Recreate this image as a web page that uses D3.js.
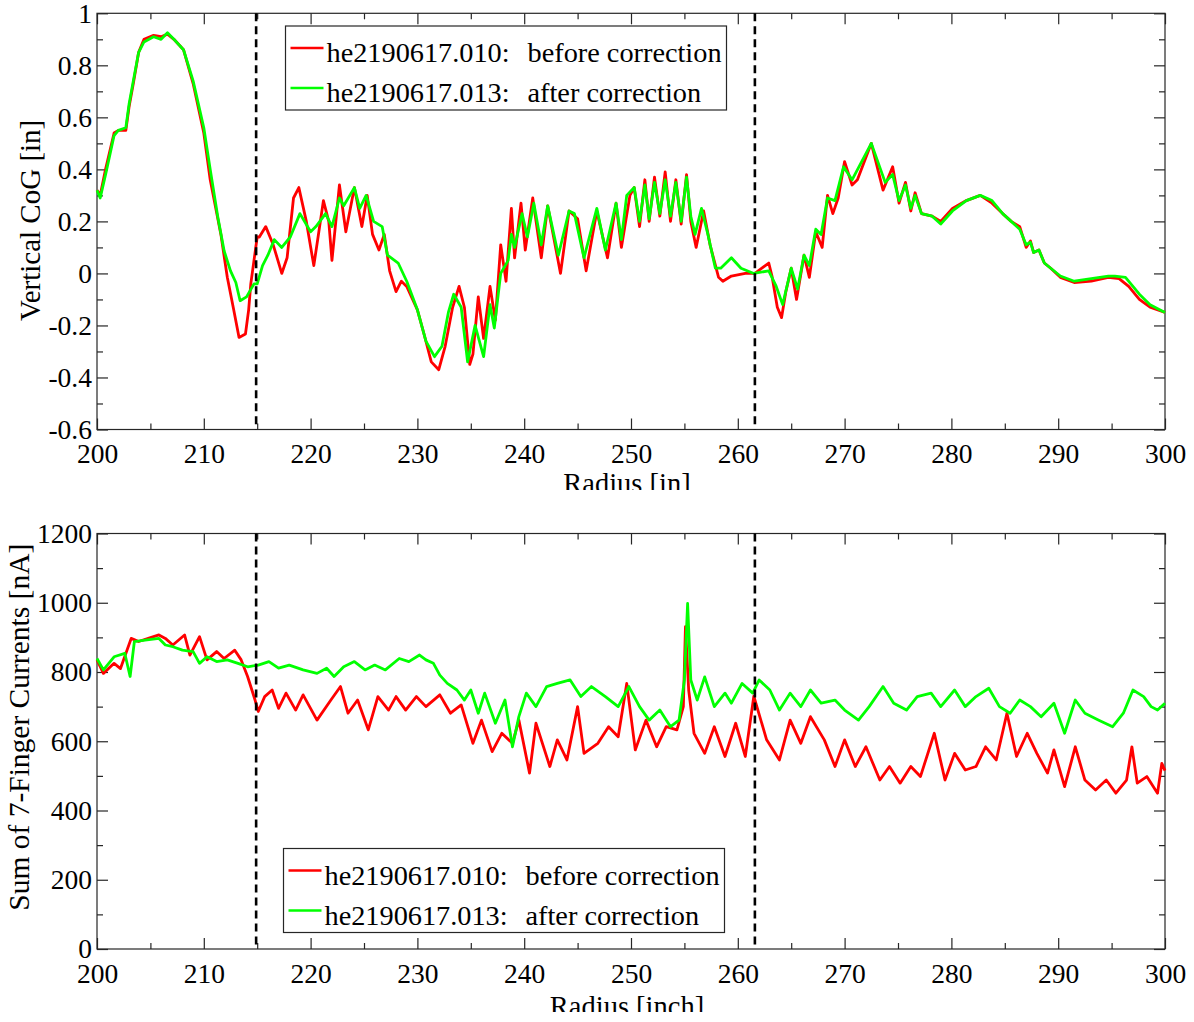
<!DOCTYPE html>
<html>
<head>
<meta charset="utf-8">
<script src="https://cdn.jsdelivr.net/npm/d3@7"></script>
<style>
  body { margin: 0; background: #fff; }
</style>
</head>
<body>
<div id="chart"></div>
<script>
var FONT = "'Liberation Serif', 'Times New Roman', 'DejaVu Serif', serif";

// Radius ticks (shared by both panels)
var radiusTicks = [200, 210, 220, 230, 240, 250, 260, 270, 280, 290, 300];
var radiusMinor = [205, 215, 225, 235, 245, 255, 265, 275, 285, 295];
var cogTicks = [-0.6, -0.4, -0.2, 0, 0.2, 0.4, 0.6, 0.8, 1];
var cogMinor = [-0.5, -0.3, -0.1, 0.1, 0.3, 0.5, 0.7, 0.9];
var currentTicks = [0, 200, 400, 600, 800, 1000, 1200];
var currentMinor = [100, 300, 500, 700, 900, 1100];

// Correction boundaries (dashed lines)
var markers = [214.9, 261.6];

var seriesNames = ['he2190617.010:', 'he2190617.013:'];
var seriesNotes = ['before correction', 'after correction'];
var seriesColors = ['#ff0000', '#00ff00'];

// Vertical CoG [in] as [radius, value]
var cogBefore = [[200.0,0.32],[200.3,0.30],[200.8,0.40],[201.6,0.54],[202.0,0.55],[202.7,0.55],[203.0,0.64],[203.4,0.73],
  [203.9,0.85],[204.4,0.90],[205.3,0.915],[206.0,0.91],[206.6,0.92],[207.2,0.90],[208.1,0.86],[209.0,0.73],[210.0,0.54],
  [210.6,0.36],[211.6,0.15],[212.2,-0.015],[212.8,-0.14],[213.3,-0.246],[213.9,-0.233],[214.2,-0.14],[214.4,-0.04],
  [214.7,0.05],[215.0,0.14],[215.2,0.14],[215.8,0.18],[216.5,0.11],[217.3,0.0],[217.8,0.06],[218.4,0.29],[218.9,0.33],
  [219.6,0.2],[220.3,0.03],[220.7,0.14],[221.2,0.28],[221.7,0.2],[222.0,0.05],[222.7,0.34],[223.3,0.16],[224.1,0.33],
  [224.8,0.18],[225.3,0.3],[225.8,0.15],[226.4,0.09],[226.9,0.15],[227.4,0.01],[228.0,-0.07],[228.5,-0.03],[229.0,-0.05],
  [230.0,-0.14],[230.6,-0.23],[231.3,-0.34],[232.0,-0.37],[232.6,-0.28],[233.3,-0.13],[233.9,-0.05],[234.4,-0.13],
  [234.9,-0.35],[235.2,-0.31],[235.7,-0.09],[236.2,-0.25],[236.8,-0.05],[237.3,-0.18],[237.8,0.11],[238.3,-0.03],
  [238.8,0.25],[239.1,0.06],[239.7,0.27],[240.1,0.09],[240.8,0.29],[241.6,0.06],[242.2,0.26],[243.4,0.0],[244.2,0.24],
  [245.0,0.21],[245.8,0.01],[246.8,0.24],[247.8,0.06],[248.6,0.27],[249.1,0.1],[249.9,0.3],[250.3,0.33],[250.8,0.18],
  [251.3,0.36],[251.7,0.2],[252.2,0.37],[252.7,0.22],[253.2,0.39],[253.7,0.2],[254.2,0.36],[254.7,0.19],[255.2,0.38],
  [255.6,0.2],[256.1,0.1],[256.8,0.24],[257.4,0.11],[258.2,-0.015],[258.6,-0.03],[259.4,-0.01],[260.7,0.0],[261.6,0.0],
  [262.9,0.04],[263.2,-0.01],[263.7,-0.13],[264.1,-0.17],[264.5,-0.07],[265.0,0.02],[265.5,-0.1],[266.2,0.07],
  [266.7,-0.015],[267.3,0.16],[267.9,0.1],[268.4,0.3],[268.9,0.23],[269.4,0.29],[270.0,0.43],[270.7,0.34],[271.2,0.36],
  [272.5,0.5],[273.6,0.32],[274.5,0.41],[275.1,0.27],[275.7,0.35],[276.2,0.24],[276.6,0.31],[277.2,0.23],[278.2,0.22],
  [279.0,0.2],[280.1,0.25],[281.4,0.28],[282.7,0.3],[283.8,0.27],[284.8,0.23],[285.6,0.2],[286.4,0.18],[287.0,0.1],
  [287.4,0.125],[287.7,0.08],[288.2,0.09],[288.7,0.04],[289.3,0.02],[290.2,-0.015],[291.5,-0.035],[293.1,-0.03],
  [294.7,-0.015],[295.7,-0.02],[296.6,-0.05],[297.6,-0.1],[298.6,-0.13],[300.0,-0.15]];

var cogAfter = [[200.0,0.32],[200.3,0.29],[200.8,0.38],[201.6,0.53],[202.0,0.55],[202.7,0.56],[203.0,0.65],[203.4,0.74],
  [203.9,0.85],[204.4,0.89],[205.3,0.91],[206.0,0.90],[206.6,0.925],[207.2,0.90],[208.1,0.86],[209.0,0.74],[210.0,0.56],
  [210.6,0.40],[211.3,0.22],[211.9,0.087],[212.5,0.01],[213.0,-0.035],[213.4,-0.105],[214.0,-0.09],[214.7,-0.04],
  [215.0,-0.04],[215.5,0.03],[216.0,0.07],[216.6,0.13],[217.3,0.10],[218.1,0.14],[219.0,0.23],[220.0,0.16],[220.5,0.18],
  [221.4,0.23],[222.0,0.18],[222.7,0.29],[223.1,0.26],[224.1,0.33],[224.6,0.25],[225.2,0.30],[225.9,0.20],[226.7,0.18],
  [227.2,0.07],[228.2,0.04],[229.0,-0.03],[230.0,-0.14],[230.8,-0.26],[231.6,-0.32],[232.3,-0.28],[232.9,-0.15],
  [233.4,-0.08],[234.1,-0.13],[234.7,-0.34],[235.4,-0.20],[236.2,-0.32],[236.8,-0.12],[237.2,-0.21],[237.8,0.0],
  [238.5,0.05],[238.8,0.15],[239.1,0.10],[239.8,0.23],[240.3,0.14],[240.9,0.27],[241.6,0.11],[242.2,0.26],[243.2,0.07],
  [244.2,0.24],[244.7,0.23],[245.6,0.06],[246.8,0.25],[247.6,0.09],[248.6,0.27],[249.1,0.13],[249.6,0.30],[250.3,0.33],
  [250.8,0.20],[251.3,0.34],[251.7,0.21],[252.2,0.35],[252.7,0.23],[253.2,0.36],[253.7,0.22],[254.2,0.35],[254.7,0.20],
  [255.2,0.37],[255.6,0.22],[256.0,0.15],[256.6,0.25],[257.2,0.15],[257.9,0.02],[258.4,0.02],[259.4,0.06],[260.3,0.02],
  [261.5,0.0],[262.9,0.01],[263.6,-0.05],[264.2,-0.12],[265.0,0.02],[265.6,-0.06],[266.2,0.07],[266.7,0.03],[267.3,0.17],
  [267.8,0.15],[268.4,0.29],[269.1,0.28],[269.9,0.41],[270.7,0.36],[272.5,0.5],[273.8,0.35],[274.5,0.38],[275.1,0.28],
  [275.7,0.34],[276.2,0.25],[276.6,0.30],[277.2,0.23],[278.2,0.22],[279.0,0.19],[280.1,0.24],[281.4,0.28],[282.7,0.30],
  [283.8,0.28],[284.8,0.23],[285.6,0.20],[286.4,0.17],[287.0,0.11],[287.4,0.12],[287.7,0.08],[288.2,0.09],[288.7,0.04],
  [289.3,0.02],[290.2,-0.01],[291.5,-0.03],[293.1,-0.02],[294.7,-0.01],[295.3,-0.01],[296.3,-0.015],[297.6,-0.08],
  [298.6,-0.12],[300.0,-0.15]];

// Sum of 7-finger currents [nA] as [radius, value]
var currentBefore = [[200.0,835],[200.6,796],[201.6,825],[202.2,810],[203.2,897],[203.9,888],[204.8,897],[205.8,907],
  [206.4,897],[207.1,878],[208.2,907],[208.7,849],[209.6,902],[210.3,835],[211.2,859],[211.9,839],[212.9,863],[213.5,835],
  [214.1,787],[214.8,719],[215.1,686],[215.7,729],[216.4,748],[217.0,695],[217.7,739],[218.6,690],[219.3,734],[220.6,661],
  [221.9,719],[222.8,758],[223.5,681],[224.4,719],[225.4,633],[226.3,729],[227.3,690],[228.0,729],[228.9,690],[229.9,729],
  [230.8,700],[232.1,734],[233.1,681],[234.1,705],[235.2,594],[236.0,661],[237.0,570],[237.9,623],[238.9,594],[239.5,661],
  [240.5,508],[241.1,652],[242.4,527],[243.1,604],[244.0,546],[245.0,700],[245.6,565],[246.9,594],[247.9,642],[248.8,613],
  [249.6,767],[250.4,575],[251.4,661],[252.4,584],[253.3,642],[254.3,633],[254.9,700],[255.1,931],[255.4,748],[255.9,623],
  [256.9,565],[257.8,642],[258.8,556],[259.8,652],[260.7,556],[261.5,730],[262.7,604],[263.9,546],[264.9,661],[265.9,594],
  [266.8,671],[268.1,604],[269.1,527],[270.0,604],[271.0,527],[272.0,584],[273.3,488],[274.2,527],[275.2,479],[276.2,527],
  [277.1,498],[278.4,623],[279.4,488],[280.3,565],[281.3,517],[282.3,527],[283.2,584],[284.2,546],[285.2,681],[286.1,556],
  [287.1,623],[288.0,565],[289.0,508],[289.6,575],[290.6,469],[291.6,584],[292.5,488],[293.5,459],[294.5,488],[295.4,450],
  [296.4,488],[296.9,584],[297.4,479],[298.3,498],[299.3,450],[299.7,536],[300.0,515]];

var currentAfter = [[200.0,839],[200.6,806],[201.6,844],[202.6,854],[203.1,787],[203.5,888],[204.5,892],[205.8,897],
  [206.4,878],[207.1,873],[208.0,863],[209.0,859],[209.6,825],[210.3,844],[211.2,830],[212.2,835],[213.2,825],[214.1,815],
  [215.1,820],[216.1,830],[217.0,811],[218.0,820],[219.3,806],[220.6,796],[221.5,811],[222.2,787],[223.1,815],[224.1,830],
  [225.1,806],[226.0,820],[227.0,806],[228.3,839],[229.2,830],[230.2,849],[230.8,835],[231.5,825],[232.1,791],[232.8,767],
  [233.7,748],[234.4,719],[235.0,748],[235.7,681],[236.3,739],[237.3,652],[238.2,719],[238.9,584],[239.5,671],[240.2,739],
  [241.1,700],[242.1,758],[243.1,767],[244.3,777],[245.3,729],[246.3,758],[247.6,729],[248.8,700],[249.8,758],[250.8,700],
  [251.7,661],[252.7,690],[253.7,642],[254.5,661],[255.0,777],[255.3,998],[255.6,777],[256.2,719],[256.9,786],[257.8,700],
  [258.8,739],[259.4,710],[260.4,767],[261.4,739],[262.0,777],[263.0,748],[263.9,690],[264.9,739],[265.9,700],[266.8,748],
  [267.8,710],[269.1,719],[270.0,690],[271.3,661],[272.3,700],[273.6,758],[274.6,710],[275.8,690],[276.8,729],[278.1,739],
  [279.0,700],[280.3,748],[281.3,700],[282.3,729],[283.5,753],[284.5,700],[285.5,681],[286.4,719],[287.4,700],[288.4,671],
  [289.6,710],[290.6,623],[291.6,719],[292.5,681],[293.8,661],[295.1,642],[296.1,681],[297.0,748],[298.0,729],[298.7,700],
  [299.3,690],[300.0,710]];

var svg = d3.select('#chart').append('svg')
  .attr('width', 1194)
  .attr('height', 1022);

var defs = svg.append('defs');
defs.append('clipPath').attr('id', 'clip-top-title')
  .append('rect').attr('x', 0).attr('y', 0).attr('width', 1194).attr('height', 490);
defs.append('clipPath').attr('id', 'clip-bottom-title')
  .append('rect').attr('x', 0).attr('y', 0).attr('width', 1194).attr('height', 1012);

function setFont(sel, size) {
  sel.attr('font-family', null)
     .style('font-family', FONT)
     .style('font-size', size + 'px')
     .attr('fill', '#000');
}

// Draw one boxed MATLAB-style panel
function drawPanel(cfg) {
  var left = 97, width = 1068;
  var top = cfg.top, height = cfg.height;

  var x = d3.scaleLinear().domain([200, 300]).range([0, width]);
  var y = d3.scaleLinear().domain(cfg.yDomain).range([height, 0]);

  var g = svg.append('g').attr('transform', 'translate(' + left + ',' + top + ')');

  // frame
  g.append('rect')
    .attr('width', width).attr('height', height)
    .attr('fill', '#fff').attr('stroke', '#262626').attr('stroke-width', 1.2);

  function style(sel) {
    sel.attr('font-family', null);
    sel.select('.domain').remove();
    sel.selectAll('line').attr('stroke', '#262626').attr('stroke-width', 1.2);
    setFont(sel.selectAll('text'), 27.5);
  }

  var fmt = function(d) { return String(d); };
  var none = function() { return ''; };

  // major ticks with labels, pointing inward
  g.append('g').attr('transform', 'translate(0,' + height + ')')
    .call(d3.axisBottom(x).tickValues(radiusTicks).tickFormat(fmt).tickSizeInner(-11).tickSizeOuter(0).tickPadding(14))
    .call(style);
  g.append('g')
    .call(d3.axisLeft(y).tickValues(cfg.yTicks).tickFormat(fmt).tickSizeInner(-11).tickSizeOuter(0).tickPadding(5))
    .call(style);
  g.append('g')
    .call(d3.axisTop(x).tickValues(radiusTicks).tickFormat(none).tickSizeInner(-11).tickSizeOuter(0))
    .call(style);
  g.append('g').attr('transform', 'translate(' + width + ',0)')
    .call(d3.axisRight(y).tickValues(cfg.yTicks).tickFormat(none).tickSizeInner(-11).tickSizeOuter(0))
    .call(style);

  // minor ticks
  g.append('g').attr('transform', 'translate(0,' + height + ')')
    .call(d3.axisBottom(x).tickValues(radiusMinor).tickFormat(none).tickSizeInner(-6).tickSizeOuter(0)).call(style);
  g.append('g')
    .call(d3.axisTop(x).tickValues(radiusMinor).tickFormat(none).tickSizeInner(-6).tickSizeOuter(0)).call(style);
  g.append('g')
    .call(d3.axisLeft(y).tickValues(cfg.yMinor).tickFormat(none).tickSizeInner(-6).tickSizeOuter(0)).call(style);
  g.append('g').attr('transform', 'translate(' + width + ',0)')
    .call(d3.axisRight(y).tickValues(cfg.yMinor).tickFormat(none).tickSizeInner(-6).tickSizeOuter(0)).call(style);

  // data lines, red first then green on top
  var line = d3.line().x(function(d) { return x(d[0]); }).y(function(d) { return y(d[1]); });
  cfg.series.forEach(function(s, i) {
    g.append('path').datum(s)
      .attr('d', line)
      .attr('fill', 'none')
      .attr('stroke', seriesColors[i])
      .attr('stroke-width', 2.8)
      .attr('stroke-linejoin', 'round');
  });

  // dashed boundaries
  g.selectAll('line.marker').data(markers).enter().append('line')
    .classed('marker', true)
    .attr('x1', function(d) { return x(d); })
    .attr('x2', function(d) { return x(d); })
    .attr('y1', 0).attr('y2', height)
    .attr('stroke', '#000').attr('stroke-width', 2.6)
    .attr('stroke-dasharray', '8,5');

  // legend
  var lg = g.append('g').attr('transform', 'translate(' + (cfg.legend[0] - left) + ',' + (cfg.legend[1] - top) + ')');
  lg.append('rect').attr('width', 441).attr('height', 84)
    .attr('fill', '#fff').attr('stroke', '#262626').attr('stroke-width', 1.2);
  seriesNames.forEach(function(name, i) {
    var cy = 22 + i * 40;
    lg.append('line').attr('x1', 5).attr('x2', 38).attr('y1', cy).attr('y2', cy)
      .attr('stroke', seriesColors[i]).attr('stroke-width', 2.6);
    lg.append('text').attr('x', 41).attr('y', cy + 14).text(name).call(setFont, 28.3);
    lg.append('text').attr('x', 242).attr('y', cy + 14).text(seriesNotes[i]).call(setFont, 28.3);
  });

  // axis titles
  svg.append('text')
    .attr('transform', 'translate(' + cfg.yTitleX + ',' + (top + height / 2 + cfg.yTitleShift) + ') rotate(-90)')
    .attr('text-anchor', 'middle')
    .text(cfg.yTitle)
    .call(setFont, cfg.yTitleSize);
  svg.append('text')
    .attr('x', left + width / 2 - 4).attr('y', cfg.xTitleY)
    .attr('text-anchor', 'middle')
    .attr('clip-path', 'url(#' + cfg.xTitleClip + ')')
    .text(cfg.xTitle)
    .call(setFont, 28.5);
}

drawPanel({
  top: 13.3, height: 416.2,
  yDomain: [-0.6, 1], yTicks: cogTicks, yMinor: cogMinor,
  series: [cogBefore, cogAfter],
  legend: [285.5, 26],
  yTitle: 'Vertical CoG [in]', yTitleX: 40, yTitleShift: -1, yTitleSize: 29,
  xTitle: 'Radius [in]', xTitleY: 493, xTitleClip: 'clip-top-title'
});

drawPanel({
  top: 533.5, height: 415.5,
  yDomain: [0, 1200], yTicks: currentTicks, yMinor: currentMinor,
  series: [currentBefore, currentAfter],
  legend: [283.5, 848.5],
  yTitle: 'Sum of 7-Finger Currents [nA]', yTitleX: 29, yTitleShift: -14, yTitleSize: 29.5,
  xTitle: 'Radius [inch]', xTitleY: 1016, xTitleClip: 'clip-bottom-title'
});
</script>
</body>
</html>
